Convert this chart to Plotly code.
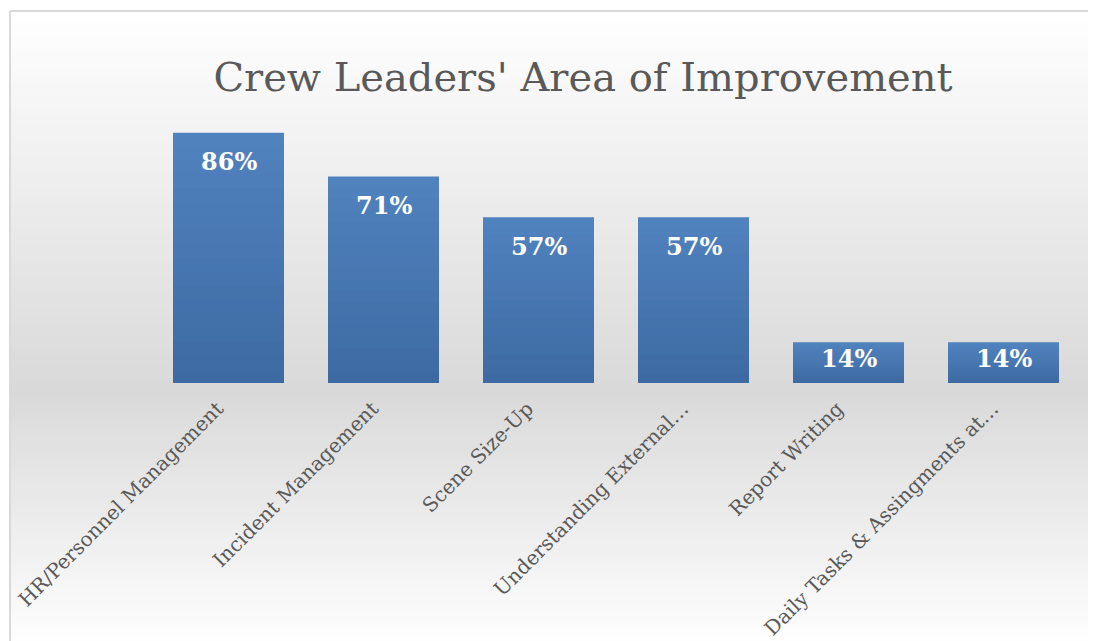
import plotly.graph_objects as go

# ── data ─────────────────────────────────────────────
categories = [
    "HR/Personnel Management",
    "Incident Management",
    "Scene Size-Up",
    "Understanding External…",
    "Report Writing",
    "Daily Tasks & Assingments at…",
]
shares = [0.86, 0.71, 0.57, 0.57, 0.14, 0.14]
labels = ["86%", "71%", "57%", "57%", "14%", "14%"]

# page has an 8px body margin, so figure coords = page coords - 8
OFF = 8
W, H = 1088, 633
PLOT_L, PLOT_R, PLOT_T, PLOT_B = 151 - OFF, 1081 - OFF, 92 - OFF, 383 - OFF
SERIF = "DejaVu Serif"

fig = go.Figure()

# bars: stacked overlay layers give a light-top / dark-bottom gradient per bar
top_rgb, bot_rgb = (80, 130, 190), (61, 105, 161)
n_layers = 18
for k in range(n_layers, 0, -1):
    f = k / n_layers
    c = [round(b + (t - b) * f) for t, b in zip(top_rgb, bot_rgb)]
    fig.add_trace(go.Bar(
        x=categories,
        y=[v * f for v in shares],
        marker=dict(color=f"rgb({c[0]},{c[1]},{c[2]})", line=dict(width=0)),
        hoverinfo="skip" if k < n_layers else None,
        showlegend=False,
    ))

# value labels inside the bar tops
px_per_unit = PLOT_B - PLOT_T
for cat, v, lab in zip(categories, shares, labels):
    off = min(29, v * px_per_unit * 0.4)
    fig.add_annotation(
        x=cat, y=v, text=f"<b>{lab}</b>", showarrow=False,
        yanchor="middle", yshift=-off,
        font=dict(family=SERIF, size=24, color="white"),
    )

# background gradient (white → grey → white) drawn as thin bands
def px_to_paper_y(py):
    return (PLOT_B - (py - OFF)) / (PLOT_B - PLOT_T)

def px_to_paper_x(px):
    return ((px - OFF) - PLOT_L) / (PLOT_R - PLOT_L)

def grey_at(py):
    if py < 390:
        t = (py - 12) / (390 - 12)
        return 255 - t * (255 - 217)
    t = (py - 390) / (641 - 390)
    return 217 + t * (254 - 217)

shapes = []
y0 = 12
step = 6
while y0 < OFF + H:
    y1 = min(y0 + step, OFF + H)
    g = round(grey_at((y0 + y1) / 2))
    shapes.append(dict(
        type="rect", layer="below", xref="paper", yref="paper",
        x0=px_to_paper_x(10), x1=px_to_paper_x(OFF + W),
        y0=px_to_paper_y(y1 + 0.5), y1=px_to_paper_y(y0),
        fillcolor=f"rgb({g},{g},{g})", line=dict(width=0),
    ))
    y0 = y1
# chart border (top and left visible)
shapes.append(dict(type="line", xref="paper", yref="paper", layer="above",
                   x0=px_to_paper_x(10), x1=px_to_paper_x(OFF + W + 5),
                   y0=px_to_paper_y(11), y1=px_to_paper_y(11),
                   line=dict(color="#d9d9d9", width=2)))
shapes.append(dict(type="line", xref="paper", yref="paper", layer="above",
                   x0=px_to_paper_x(10), x1=px_to_paper_x(10),
                   y0=px_to_paper_y(11), y1=px_to_paper_y(OFF + H + 5),
                   line=dict(color="#d9d9d9", width=2)))

fig.update_layout(
    width=W, height=H,
    barmode="overlay",
    bargap=0.284,
    paper_bgcolor="white",
    plot_bgcolor="rgba(0,0,0,0)",
    margin=dict(l=PLOT_L, r=W - PLOT_R, t=PLOT_T, b=H - PLOT_B, autoexpand=False),
    shapes=shapes,
    title=dict(
        text="Crew Leaders' Area of Improvement",
        x=(583 - OFF) / W, xanchor="center",
        y=1 - (77 - OFF) / H, yanchor="middle",
        font=dict(family=SERIF, size=40, color="#595959"),
    ),
    xaxis=dict(
        tickangle=-45,
        tickfont=dict(family=SERIF, size=20, color="#595959"),
        ticklabelstandoff=9, ticklabelshift=-11,
        showline=False, showgrid=False, ticks="", ticklen=0,
    ),
    yaxis=dict(range=[0, 1.0], visible=False, showgrid=False),
)

fig.write_html("out.html")
